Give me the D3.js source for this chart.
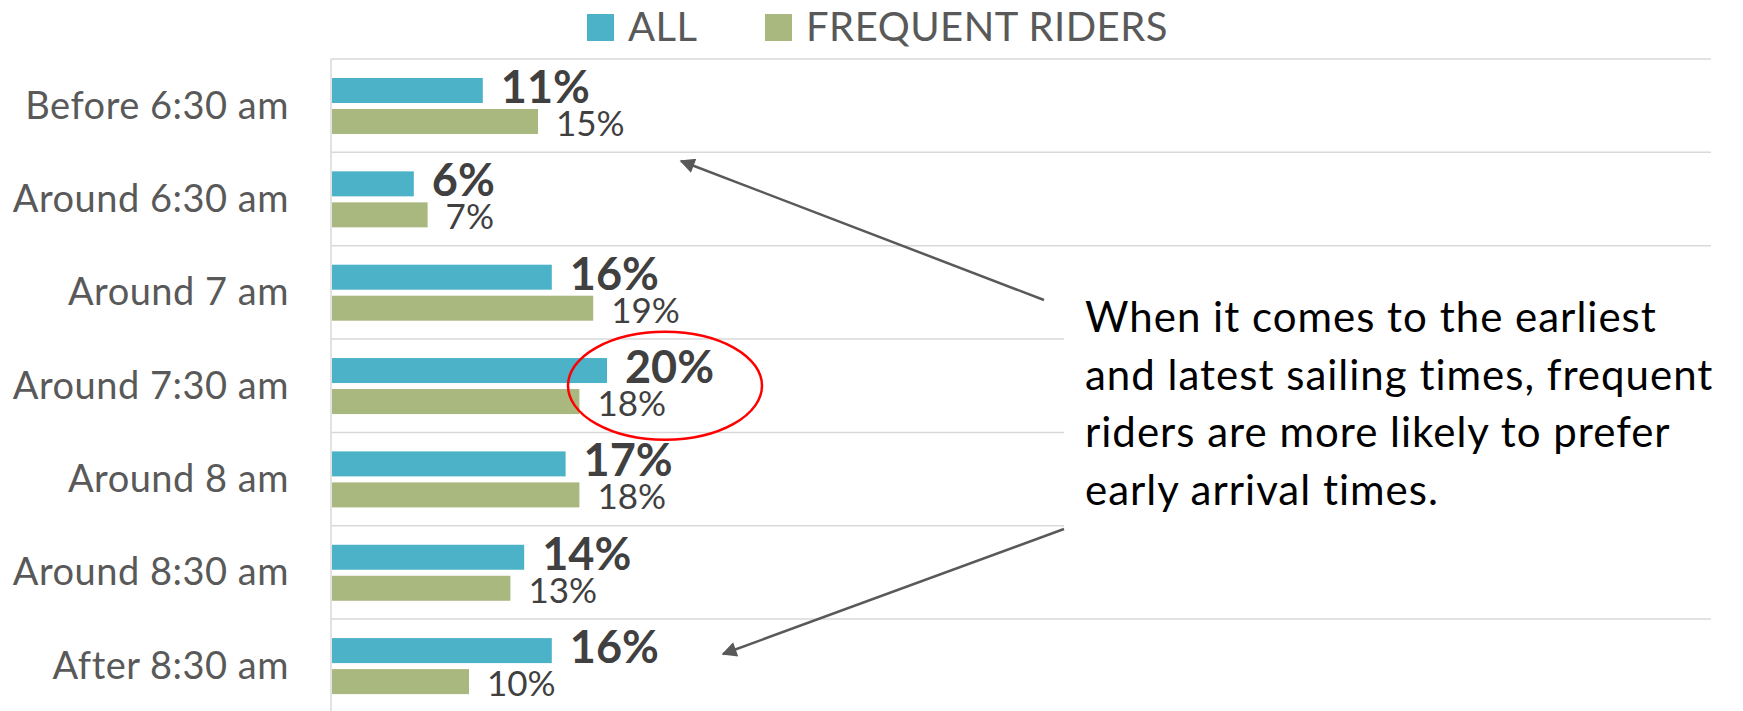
<!DOCTYPE html>
<html>
<head>
<meta charset="utf-8">
<script src="https://cdn.jsdelivr.net/npm/d3@7"></script>
<style>
  body { margin: 0; background: #fff; }
  svg { display: block; font-family: Lato, "Open Sans", sans-serif; }
</style>
</head>
<body>
<div id="chart"></div>
<script>
// data
var categories = ["Before 6:30 am", "Around 6:30 am", "Around 7 am", "Around 7:30 am",
                  "Around 8 am", "Around 8:30 am", "After 8:30 am"];
var seriesNames = ["ALL", "FREQUENT RIDERS"];
var allValues = [0.11, 0.06, 0.16, 0.20, 0.17, 0.14, 0.16];
var frequentValues = [0.15, 0.07, 0.19, 0.18, 0.18, 0.13, 0.10];
var note = ["When it comes to the earliest",
            "and latest sailing times, frequent",
            "riders are more likely to prefer",
            "early arrival times."];

var colors = {"ALL": "#4BB2C7", "FREQUENT RIDERS": "#A8B87E"};

var W = 1743, H = 711;
var margin = {left: 331, right: 32, top: 59};
var bandH = 93.35;

var svg = d3.select("#chart").append("svg")
    .attr("width", W)
    .attr("height", H);

var defs = svg.append("defs");
defs.append("marker")
    .attr("id", "head")
    .attr("viewBox", "0 0 10 10")
    .attr("refX", 9).attr("refY", 5)
    .attr("markerWidth", 7).attr("markerHeight", 6)
    .attr("markerUnits", "strokeWidth")
    .attr("orient", "auto")
    .append("path")
    .attr("d", "M0,0L10,5L0,10z")
    .attr("fill", "#595959");

var x = d3.scaleLinear()
    .domain([0, 1])
    .range([margin.left, W - margin.right]);

var y = d3.scaleBand()
    .domain(categories)
    .range([margin.top, margin.top + bandH * categories.length])
    .paddingInner(0).paddingOuter(0);

var ySub = d3.scaleBand()
    .domain(seriesNames)
    .range([19, 75])
    .paddingInner(0.194);

var rows = categories.map(function(c, i) {
  return {cat: c, values: [
    {name: "ALL", v: allValues[i]},
    {name: "FREQUENT RIDERS", v: frequentValues[i]}
  ]};
});

// gridlines
var bounds = categories.map(function(c) { return y(c); });
svg.append("g").selectAll("line")
    .data(bounds)
    .join("line")
    .attr("x1", x(0)).attr("x2", x(1))
    .attr("y1", function(d) { return d; })
    .attr("y2", function(d) { return d; })
    .attr("stroke", "#D9D9D9")
    .attr("stroke-width", 1.5);

svg.append("line")
    .attr("x1", x(0)).attr("x2", x(0))
    .attr("y1", y.range()[0]).attr("y2", y.range()[1])
    .attr("stroke", "#D9D9D9")
    .attr("stroke-width", 1.5);

// category labels
svg.append("g").selectAll("text")
    .data(categories)
    .join("text")
    .attr("x", x(0) - 42)
    .attr("y", function(d) { return y(d) + bandH / 2 + 13; })
    .attr("text-anchor", "end")
    .attr("font-size", 38)
    .attr("letter-spacing", 0.5)
    .attr("fill", "#595959")
    .text(function(d) { return d; });

// bars
var groups = svg.append("g").selectAll("g")
    .data(rows)
    .join("g")
    .attr("transform", function(d) { return "translate(0," + y(d.cat) + ")"; });

groups.selectAll("rect")
    .data(function(d) { return d.values; })
    .join("rect")
    .attr("x", x(0) + 1)
    .attr("y", function(d) { return ySub(d.name); })
    .attr("width", function(d) { return x(d.v) - x(0) - 1; })
    .attr("height", ySub.bandwidth())
    .attr("fill", function(d) { return colors[d.name]; });

groups.selectAll("text")
    .data(function(d) { return d.values; })
    .join("text")
    .attr("x", function(d) { return x(d.v) + 18; })
    .attr("y", function(d) {
      return ySub(d.name) + ySub.bandwidth() + (d.name == "ALL" ? 0 : 2);
    })
    .attr("font-size", function(d) { return d.name == "ALL" ? 45 : 35; })
    .attr("font-weight", function(d) { return d.name == "ALL" ? "bold" : "normal"; })
    .attr("fill", "#404040")
    .text(function(d) { return d3.format(".0%")(d.v); });

// legend
var legendX = [587, 765];
var legend = svg.append("g").selectAll("g")
    .data(seriesNames)
    .join("g")
    .attr("transform", function(d, i) { return "translate(" + legendX[i] + ",14)"; });
legend.append("rect")
    .attr("width", 27).attr("height", 27)
    .attr("fill", function(d) { return colors[d]; });
legend.append("text")
    .attr("x", 41).attr("y", 27)
    .attr("font-size", 40)
    .attr("letter-spacing", 0.5)
    .attr("fill", "#595959")
    .text(function(d) { return d; });

// highlight around the 7:30 row
svg.append("ellipse")
    .attr("cx", x(allValues[3]) + 58)
    .attr("cy", y("Around 7:30 am") + bandH / 2)
    .attr("rx", 97).attr("ry", 54)
    .attr("fill", "none")
    .attr("stroke", "#FF0000")
    .attr("stroke-width", 2.5);

// note box, covers the gridlines behind it
svg.append("rect")
    .attr("x", 1064).attr("y", 258)
    .attr("width", W - 1064).attr("height", 340)
    .attr("fill", "#fff");

svg.append("g").selectAll("text")
    .data(note)
    .join("text")
    .attr("x", 1085)
    .attr("y", function(d, i) { return 332 + i * 57.5; })
    .attr("font-size", 42)
    .attr("letter-spacing", 1)
    .attr("fill", "#000")
    .text(function(d) { return d; });

// arrows
var arrows = [
  {x1: 1044, y1: 300, x2: 681, y2: 161},
  {x1: 1064, y1: 529, x2: 723, y2: 654}
];
svg.append("g").selectAll("line")
    .data(arrows)
    .join("line")
    .attr("x1", function(d) { return d.x1; })
    .attr("y1", function(d) { return d.y1; })
    .attr("x2", function(d) { return d.x2; })
    .attr("y2", function(d) { return d.y2; })
    .attr("stroke", "#595959")
    .attr("stroke-width", 2.5)
    .attr("marker-end", "url(#head)");
</script>
</body>
</html>
